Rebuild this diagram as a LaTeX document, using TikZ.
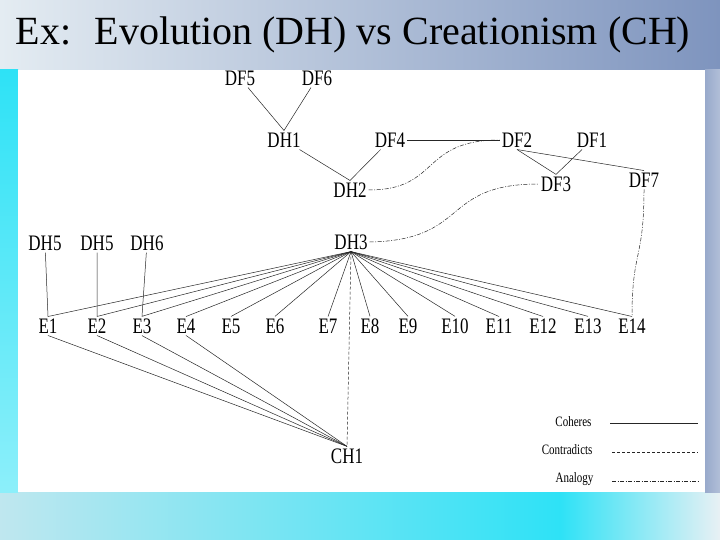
\documentclass[tikz,border=0pt]{standalone}
\usepackage{fontspec}
\setmainfont{Liberation Serif}
\definecolor{slidesteel}{HTML}{7E94BE}
\definecolor{slidelight}{HTML}{E4ECF2}
\definecolor{slidecyan}{HTML}{2EE2F6}
\definecolor{slidepale}{HTML}{BFE7EF}
\definecolor{slidewhite}{HTML}{E8F0F4}
\newcommand{\tall}[1]{\scalebox{1}[1.3]{#1}}
\begin{document}
\begin{tikzpicture}[x=1pt, y=-1pt,
    lbl/.style={font=\fontsize{17}{17}\selectfont, inner sep=2pt},
    keytext/.style={font=\fontsize{11}{11}\selectfont, anchor=east},
    coheres/.style={draw=black!85, line width=0.5pt},
    contra/.style={draw=black!85, line width=0.5pt, dash pattern=on 3pt off 2pt},
    analogy/.style={draw=black!85, line width=0.5pt, dash pattern=on 4pt off 1.5pt on 1pt off 1.5pt}]
  \useasboundingbox (0, 0) rectangle (720, 540);
  % slide background
  \fill[slidecyan] (0, 0) rectangle (720, 540);
  \shade[left color=slidelight, right color=slidesteel] (0, 0) rectangle (720, 70);
  \shade[left color=slidepale, right color=slidecyan] (0, 492) rectangle (560, 540);
  \shade[left color=slidecyan, right color=slidewhite] (560, 492) rectangle (720, 540);
  \shade[top color=slidecyan, bottom color=slidecyan!55!white] (0, 70) rectangle (18, 492);
  \shade[left color=slidesteel!80, right color=slidesteel!60] (705, 70) rectangle (720, 492);
  \fill[white] (18, 70) rectangle (705, 492);
  \node[font=\fontsize{40}{40}\selectfont, inner sep=0pt] (title) at (353, 35) {Ex:~ Evolution (DH) vs Creationism (CH)};

  % nodes
  \node[lbl] (df5) at (240, 78) {\tall{DF5}};
  \node[lbl] (df6) at (317, 78) {\tall{DF6}};
  \node[lbl] (dh1) at (284, 140) {\tall{DH1}};
  \node[lbl] (df4) at (390, 140) {\tall{DF4}};
  \node[lbl] (df2) at (517, 140) {\tall{DF2}};
  \node[lbl] (df1) at (592, 140) {\tall{DF1}};
  \node[lbl] (dh2) at (350, 190) {\tall{DH2}};
  \node[lbl] (df3) at (556, 184) {\tall{DF3}};
  \node[lbl] (df7) at (644, 180) {\tall{DF7}};
  \node[lbl] (dh5a) at (45, 243) {\tall{DH5}};
  \node[lbl] (dh5b) at (97, 243) {\tall{DH5}};
  \node[lbl] (dh6) at (147, 243) {\tall{DH6}};
  \node[lbl] (dh3) at (351, 242) {\tall{DH3}};
  \foreach \x [count=\i] in {48,97,142,186,231,275,328,370,408,455,499,543,588,632}
    \node[lbl] (e\i) at (\x, 326) {\tall{E\i}};
  \node[lbl] (ch1) at (347, 456) {\tall{CH1}};

  % coheres
  \draw[coheres] (df5) -- (dh1.north) -- (df6);
  \draw[coheres] (dh1) -- (dh2.north) -- (df4);
  \draw[coheres] (df4) -- (df2);
  \draw[coheres] (df2.south) -- (df3.north) -- (df1);
  \draw[coheres] (df2.south) -- (df7.north);
  \draw[coheres] (dh5a) -- (e1.north) -- (dh3.south);
  \draw[coheres] (dh5b) -- (e2.north) -- (dh3.south);
  \draw[coheres] (dh6) -- (e3.north) -- (dh3.south);
  \foreach \i in {4,...,14}
    \draw[coheres] (e\i.north) -- (dh3.south);
  \foreach \i in {1,...,4}
    \draw[coheres] (e\i.south) -- (ch1.north);

  % contradicts
  \draw[contra] (dh3.south) -- (ch1.north);

  % analogy
  \draw[analogy] (dh2.east) .. controls (440, 190) and (420, 140) .. (df2.west);
  \draw[analogy] (dh3.east) .. controls (470, 240) and (440, 184) .. (df3.west);
  \draw[analogy] (df7.south) .. controls (644, 260) and (632, 250) .. (e14.north);

  % legend
  \node[keytext] (kcoh) at (595, 422) {\tall{Coheres}};
  \node[keytext] (kcon) at (596, 450) {\tall{Contradicts}};
  \node[keytext] (kana) at (597, 479) {\tall{Analogy}};
  \coordinate (kcoh1) at (610, 423);
  \coordinate (kcoh2) at (698, 423);
  \coordinate (kcon1) at (612, 452);
  \coordinate (kcon2) at (698, 452);
  \coordinate (kana1) at (612, 481);
  \coordinate (kana2) at (698, 481);
  \draw[coheres] (kcoh1) -- (kcoh2);
  \draw[contra] (kcon1) -- (kcon2);
  \draw[analogy] (kana1) -- (kana2);
\end{tikzpicture}
\end{document}
